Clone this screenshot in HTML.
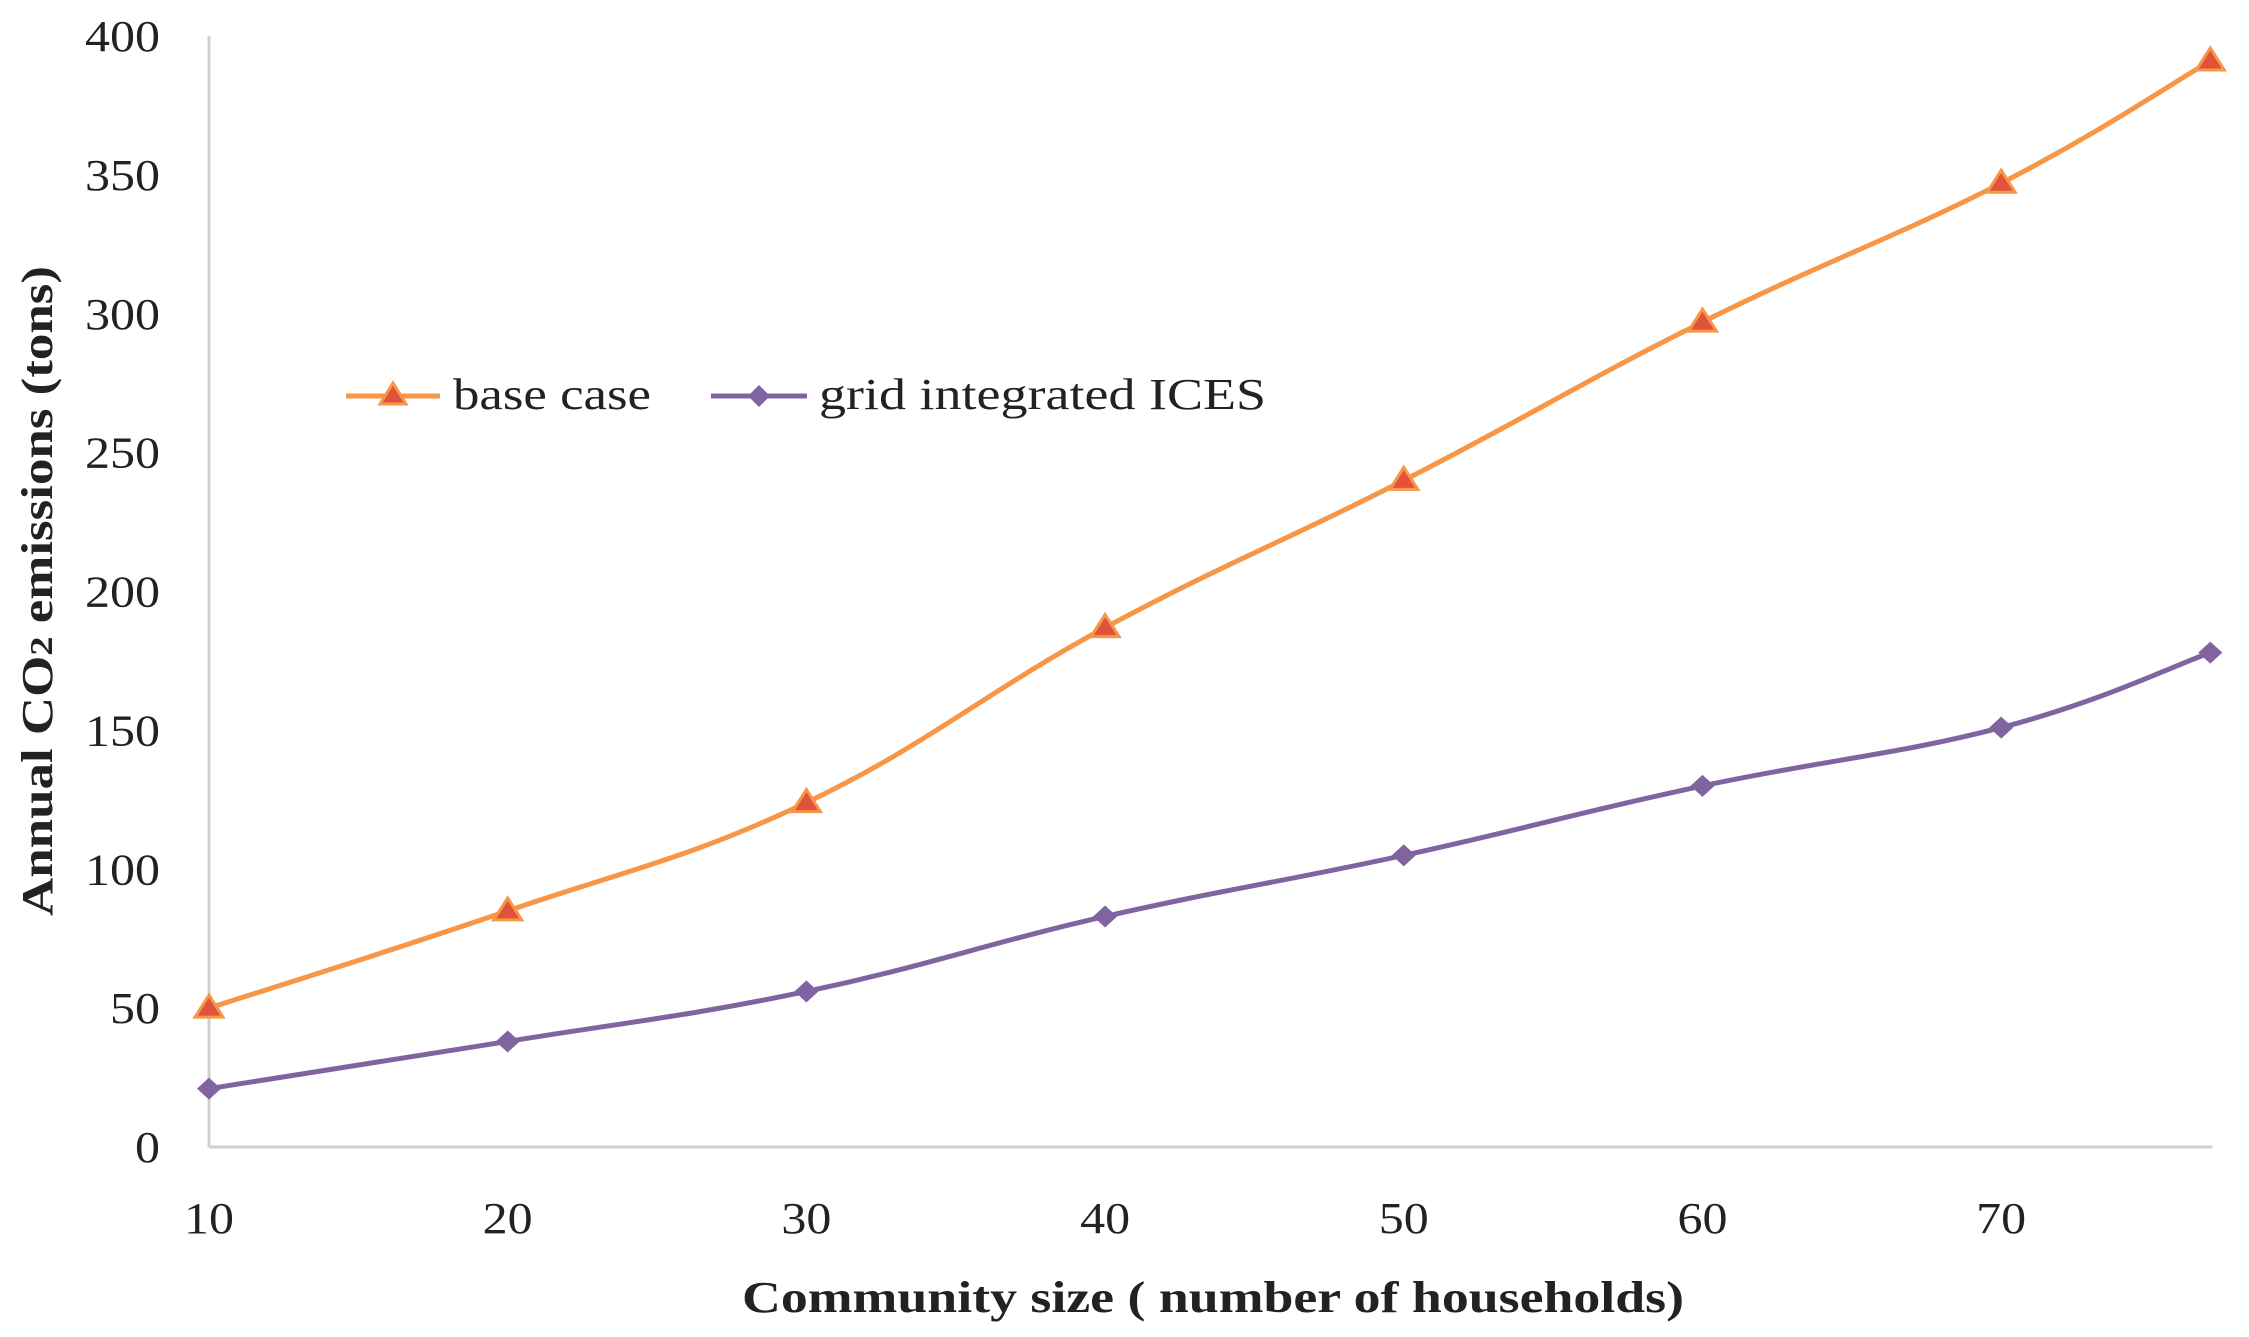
<!DOCTYPE html>
<html><head><meta charset="utf-8"><style>
html,body{margin:0;padding:0;background:#fff;}
svg{display:block;}
text{font-family:"Liberation Serif",serif;fill:#222;}
</style></head><body>
<svg id="chart" width="2249" height="1337" viewBox="0 0 2249 1337" xmlns="http://www.w3.org/2000/svg">
<g id="axes"></g>
<g id="series"></g>
<text transform="translate(52,591) rotate(-90)" text-anchor="middle" font-weight="bold" font-size="44" textLength="650" lengthAdjust="spacingAndGlyphs">Annual CO<tspan font-size="32">2</tspan> emissions (tons)</text>
<text x="1213" y="1312" text-anchor="middle" font-weight="bold" font-size="44" textLength="942" lengthAdjust="spacingAndGlyphs">Community size ( number of households)</text>
<g>
 <g>
  <line x1="346" y1="396" x2="440" y2="396" stroke="#F79646" stroke-width="5"/>
  <polygon points="393,383 380,404 406,404" fill="#E0533A" stroke="#F79646" stroke-width="3"/>
  <text x="453" y="409" font-size="44" textLength="198" lengthAdjust="spacingAndGlyphs">base case</text>
 </g>
 <g>
  <line x1="711" y1="396" x2="807" y2="396" stroke="#8064A2" stroke-width="5"/>
  <polygon points="759,385 770,396 759,407 748,396" fill="#8064A2"/>
  <text x="819" y="409" font-size="44" textLength="447" lengthAdjust="spacingAndGlyphs">grid integrated ICES</text>
 </g>
</g>
</svg>
<script>
const xValues = [10, 20, 30, 40, 50, 60, 70, 77];
const baseCase = [50, 85, 124, 187, 240, 297, 347, 391];
const gridIces = [21, 38, 56, 83, 105, 130, 151, 178];
const yTicks = [0, 50, 100, 150, 200, 250, 300, 350, 400];
const xTickLabels = [10, 20, 30, 40, 50, 60, 70];

const NS = "http://www.w3.org/2000/svg";
const x0 = 209, xStep = 29.87, xMin = 10;
const yBase = 1147, yTop = 36, yMax = 400;
function xs(v){ return x0 + (v - xMin) * xStep; }
function ys(v){ return yBase - v / yMax * (yBase - yTop); }
function mk(tag, attrs, parent){
  const e = document.createElementNS(NS, tag);
  for (const k in attrs) e.setAttribute(k, attrs[k]);
  parent.appendChild(e);
  return e;
}
const axes = document.getElementById('axes');
const series = document.getElementById('series');

const yAxis = mk('line', {x1: xs(10), y1: ys(0), x2: xs(10), y2: ys(400), stroke: '#d0d0d0', 'stroke-width': 3}, axes);


const xAxis = mk('line', {x1: xs(10), y1: ys(0), x2: xs(77) + 2, y2: ys(0), stroke: '#d0d0d0', 'stroke-width': 3}, axes);



yTicks.forEach(t => {
  const s = String(t);
  const tx = mk('text', {x: 160, y: ys(t) + 15, 'text-anchor': 'end', 'font-size': 44, textLength: s.length * 25, lengthAdjust: 'spacingAndGlyphs'}, axes);
  tx.textContent = s;
  
  
});
xTickLabels.forEach(t => {
  const s = String(t);
  const tx = mk('text', {x: xs(t), y: 1233, 'text-anchor': 'middle', 'font-size': 44, textLength: s.length * 25, lengthAdjust: 'spacingAndGlyphs'}, axes);
  tx.textContent = s;
  
  
});

function smoothPath(pts){
  let d = `M${pts[0][0]},${pts[0][1]}`;
  const t = 0.2;
  for (let i = 0; i < pts.length - 1; i++){
    const p0 = pts[i-1] || pts[i], p1 = pts[i], p2 = pts[i+1], p3 = pts[i+2] || p2;
    const c1 = [p1[0] + (p2[0]-p0[0])*t, p1[1] + (p2[1]-p0[1])*t];
    const c2 = [p2[0] - (p3[0]-p1[0])*t, p2[1] - (p3[1]-p1[1])*t];
    d += ` C${c1[0]},${c1[1]} ${c2[0]},${c2[1]} ${p2[0]},${p2[1]}`;
  }
  return d;
}

function drawSeries(vals, color, name, marker){
  const pts = vals.map((v, i) => [xs(xValues[i]), ys(v)]);
  const p = mk('path', {d: smoothPath(pts), fill: 'none', stroke: color, 'stroke-width': 5}, series);
  
  
  pts.forEach(([px, py]) => {
    let m;
    if (marker === 'tri'){
      m = mk('polygon', {points: `${px},${py-13} ${px-14},${py+9} ${px+14},${py+9}`, fill: '#E0533A', stroke: '#F79646', 'stroke-width': 3}, series);
    } else {
      m = mk('polygon', {points: `${px},${py-11} ${px+12},${py} ${px},${py+11} ${px-12},${py}`, fill: '#8064A2'}, series);
    }
    
    
  });
}
drawSeries(baseCase, '#F79646', 'base-case', 'tri');
drawSeries(gridIces, '#8064A2', 'grid-integrated-ices', 'dia');
</script>
</body></html>
